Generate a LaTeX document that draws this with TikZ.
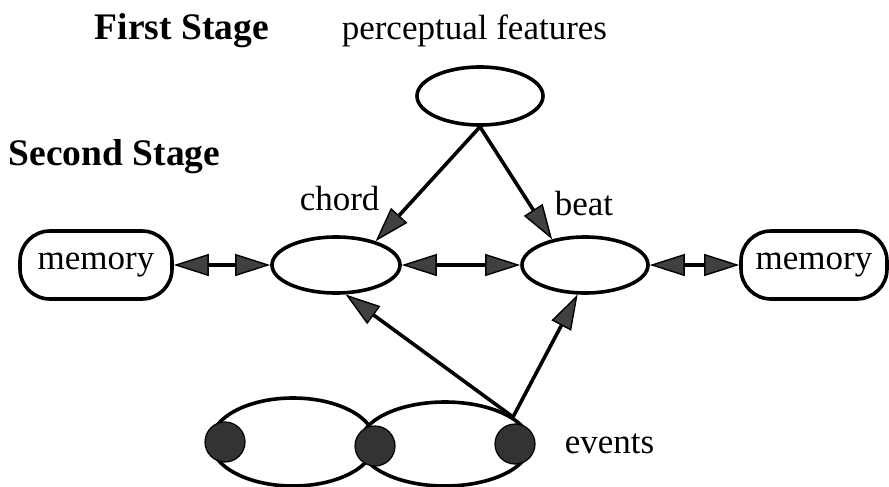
\documentclass[tikz,border=0pt]{standalone}
\usepackage{fontspec}
\setmainfont{Liberation Serif}
\usetikzlibrary{shapes.geometric,arrows.meta}
\newcommand\lblfont{\fontsize{35}{40}\selectfont}
\newcommand\stagefont{\fontsize{37.5}{42}\selectfont\bfseries}
\begin{document}
\begin{tikzpicture}[x=1pt,y=-1pt,line width=3.6pt,
  oval/.style={draw, ellipse, inner sep=0pt, minimum width=128pt, minimum height=56pt},
  membox/.style={draw, rounded corners=30pt, minimum width=152pt, minimum height=68pt,
    inner sep=0pt, font=\lblfont},
  loop/.style={draw, ellipse, inner sep=0pt},
  dot/.style={circle, draw, fill=black!80, line width=1.2pt, minimum size=40pt, inner sep=0pt},
  lbl/.style={anchor=base west, inner sep=0pt, font=\lblfont},
  stagelbl/.style={anchor=base west, inner sep=0pt, font=\stagefont},
  onearrow/.style={-{Triangle[length=35pt,width=22pt,fill=black!75,line width=1.4pt]}},
  twoarrow/.style={{Triangle[length=35pt,width=22pt,fill=black!75,line width=1.4pt]}-{Triangle[length=35pt,width=22pt,fill=black!75,line width=1.4pt]}}]
  \useasboundingbox (0,0) rectangle (889,487);

  % stage headings and labels
  \node[stagelbl] (first) at (93,40) {First Stage};
  \node[stagelbl] (second) at (7,165) {Second Stage};
  \node[lbl] (pflbl) at (340,40) {perceptual features};
  \node[lbl] (chordlbl) at (298,210) {chord};
  \node[lbl] (beatlbl) at (553,215) {beat};
  \node[lbl] (evlbl) at (563,453) {events};

  % first and second stage units
  \node[oval, minimum width=126pt, minimum height=58pt] (pf) at (480,96) {};
  \node[oval] (chord) at (336,265) {};
  \node[oval, minimum width=126pt] (beat) at (585,265) {};
  \node[membox] (memL) at (96,265) {memory};
  \node[membox, minimum width=146pt] (memR) at (814,265) {memory};

  % event chain
  \node[loop, minimum width=164pt, minimum height=88pt] (loopL) at (293,442) {};
  \node[loop, minimum width=170pt, minimum height=84pt] (loopR) at (445,444) {};
  \node[dot] (e1) at (225,442) {};
  \node[dot] (e2) at (375,446) {};
  \node[dot] (e3) at (515,444) {};
  \coordinate (src) at (513,417);

  % connections
  \draw[onearrow] (pf.south) -- (chord.31);
  \draw[onearrow] (pf.south) -- (beat.142);
  \draw[twoarrow] (memL.east) -- (chord.west);
  \draw[twoarrow] (chord.east) -- (beat.west);
  \draw[twoarrow] (beat.east) -- (memR.west);
  \draw[onearrow] (src) -- (chord.-72);
  \draw[onearrow] (src) -- (beat.-104);
\end{tikzpicture}
\end{document}
